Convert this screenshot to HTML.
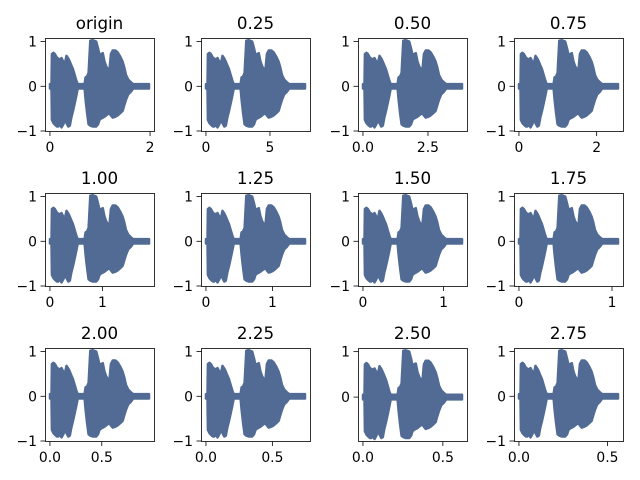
<!DOCTYPE html>
<html><head><meta charset="utf-8"><style>
html,body{margin:0;padding:0;background:#fff;}
svg{display:block;font-family:"DejaVu Sans","Liberation Sans",sans-serif;}
</style></head><body>
<svg id="fig" width="640" height="480" viewBox="0 0 640 480"></svg>
<script>
const titles = ["origin","0.25","0.50","0.75","1.00","1.25","1.50","1.75","2.00","2.25","2.50","2.75"];
const durations = [1.98,7.74,3.81,2.55,1.89,1.49,1.23,1.065,0.956,0.746,0.62,0.56];
const xTicks = [[0,2],[0,5],[0,2.5],[0,2],[0,1],[0,1],[0,1],[0,1],[0,0.5],[0,0.5],[0,0.5],[0,0.5]];
const xTickLabels = [["0","2"],["0","5"],["0.0","2.5"],["0","2"],["0","1"],["0","1"],["0","1"],["0","1"],["0.0","0.5"],["0.0","0.5"],["0.0","0.5"],["0.0","0.5"]];
const yMin = [-1.0,-1.0,-1.0,-1.0,-1.0,-1.0,-1.0,-1.0,-1.0,-1.0,-0.965,-1.0];
const yMax = [1.08,1.08,1.08,1.08,1.08,1.08,1.08,1.08,1.08,1.08,1.08,1.08];
const yTicks = [-1,0,1];
const yTickLabels = ["\u22121","0","1"];
// normalized-time envelope of the waveform
const envT =   [0,0.016,0.02,0.035,0.05,0.07,0.083,0.1,0.117,0.135,0.15,0.167,0.185,0.2,0.215,0.233,0.25,0.267,0.28,0.35,0.36,0.375,0.39,0.407,0.43,0.467,0.485,0.5,0.515,0.533,0.55,0.567,0.585,0.6,0.615,0.633,0.66,0.683,0.71,0.733,0.75,0.767,0.79,0.817,0.84,1];
const envTop = [0.05,0.05,0.72,0.75,0.72,0.64,0.62,0.6,0.63,0.55,0.5,0.68,0.62,0.55,0.47,0.38,0.25,0.12,0.05,0.05,0.2,0.22,0.3,1.02,1.03,1.0,0.85,0.7,0.72,0.74,0.55,0.45,0.38,0.35,0.72,0.8,0.8,0.76,0.66,0.55,0.42,0.25,0.15,0.09,0.05,0.05];
const envBot = [-0.05,-0.05,-0.75,-0.82,-0.86,-0.9,-0.9,-0.86,-0.92,-0.85,-0.75,-0.82,-0.9,-0.88,-0.7,-0.55,-0.38,-0.2,-0.05,-0.05,-0.3,-0.6,-0.85,-0.88,-0.9,-0.9,-0.85,-0.75,-0.72,-0.7,-0.68,-0.65,-0.62,-0.6,-0.65,-0.7,-0.68,-0.65,-0.6,-0.55,-0.42,-0.3,-0.18,-0.12,-0.05,-0.05];

const colLeft=[45,201,358,514], rowTop=[38,193,348], W=109, H=93;
const NS="http://www.w3.org/2000/svg";
const fig=document.getElementById('fig');
function mk(tag,attrs,parent){const e=document.createElementNS(NS,tag);for(const k in attrs)e.setAttribute(k,attrs[k]);parent.appendChild(e);return e;}

titles.forEach((t,i)=>{
  const L=colLeft[i%4], T=rowTop[Math.floor(i/4)];
  const D=durations[i], x0=-0.05*D, x1=1.05*D;
  const sx=v=>L+(v-x0)/(x1-x0)*W;
  const sy=v=>T+H-(v-yMin[i])/(yMax[i]-yMin[i])*H;
  const g=mk('g',{},fig);
  
  
  let d='';
  envT.forEach((u,k)=>{d+=(k?'L':'M')+sx(u*D).toFixed(1)+','+sy(envTop[k]).toFixed(1);});
  for(let k=envT.length-1;k>=0;k--){d+='L'+sx(envT[k]*D).toFixed(1)+','+sy(envBot[k]).toFixed(1);}
  d+='Z';
  const p=mk('path',{d:d,fill:'#516b95',stroke:'#516b95','stroke-width':2.5,'stroke-linejoin':'round'},g);
  
  
  const r=mk('rect',{x:L+0.5,y:T+0.5,width:W,height:H,fill:'none',stroke:'#000','stroke-width':0.8},g);
  
  
  const tt=mk('text',{x:L+W/2,y:T-9,'text-anchor':'middle','font-size':16.7,fill:'#000'},g);
  tt.textContent=t;
  
  
  xTicks[i].forEach((v,k)=>{
    const x=sx(v);
    mk('line',{x1:x,x2:x,y1:T+H+0.5,y2:T+H+5,stroke:'#000','stroke-width':0.8},g);
    const tx=mk('text',{x:x,y:T+H+21,'text-anchor':'middle','font-size':13.9,fill:'#000'},g);
    tx.textContent=xTickLabels[i][k];
    
    
  });
  yTicks.forEach((v,k)=>{
    if(v<yMin[i]-1e-9||v>yMax[i]) return;
    const y=sy(v);
    mk('line',{x1:L-4.5,x2:L+0.5,y1:y,y2:y,stroke:'#000','stroke-width':0.8},g);
    const ty=mk('text',{x:L-8,y:y+5,'text-anchor':'end','font-size':13.9,fill:'#000'},g);
    ty.textContent=yTickLabels[k];
    
    
  });
});
</script>
</body></html>
